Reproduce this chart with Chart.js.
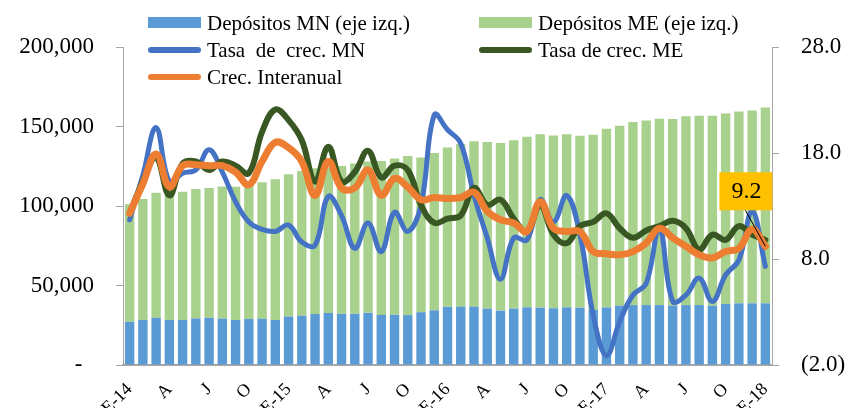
<!DOCTYPE html>
<html>
<head>
<meta charset="utf-8">
<script src="https://cdn.jsdelivr.net/npm/chart.js@4"></script>
<style>
  html, body { margin: 0; padding: 0; background: #fff; }
</style>
</head>
<body>
<canvas id="chart" width="848" height="408"></canvas>
<script>
const months = [
  "E-14", "F", "M", "A", "M", "J", "J", "A", "S", "O", "N", "D",
  "E-15", "F", "M", "A", "M", "J", "J", "A", "S", "O", "N", "D",
  "E-16", "F", "M", "A", "M", "J", "J", "A", "S", "O", "N", "D",
  "E-17", "F", "M", "A", "M", "J", "J", "A", "S", "O", "N", "D",
  "E-18"
];

// saldos (eje izq.)
const depMN = [
  27200, 28300, 29700, 28300, 28300, 29300, 29700, 29100, 28300, 28900, 29100, 28300,
  30500, 31000, 32100, 32700, 32200, 32200, 32800, 31500, 31600, 31400, 33200, 34400,
  36600, 36700, 36700, 35500, 34200, 35500, 36300, 36100, 35700, 36300, 36100, 34600,
  36200, 37300, 37700, 37700, 37700, 37300, 37700, 37700, 37300, 38400, 38800, 38800,
  38800
];
const depME = [
  73900, 76100, 78700, 79600, 80700, 81400, 81600, 83200, 83800, 84700, 85900, 88600,
  89500, 91000, 91600, 91600, 92900, 94600, 95200, 96800, 98300, 100000, 97300, 98900,
  100200, 102300, 104100, 104700, 105400, 105800, 107300, 109100, 108700, 108900, 108100, 110200,
  112400, 113100, 115200, 116000, 117200, 117400, 118700, 119100, 119500, 119800, 120700, 121300,
  123200
];

// tasas (eje der.)
const tasaMN = [
  11.7, 15.9, 20.4, 15.3, 16.1, 16.4, 18.3, 16.2, 13.4, 11.5, 10.8, 10.6,
  11.2, 9.6, 9.3, 13.9, 12.1, 9.0, 11.4, 8.7, 12.4, 10.6, 13.1, 21.6,
  20.2, 18.9, 14.0, 10.0, 6.1, 10.0, 9.8, 13.6, 11.5, 14.0, 10.3, 2.7,
  -1.1, 2.1, 4.6, 5.7, 10.9, 4.0, 4.6, 6.2, 4.0, 6.5, 7.9, 12.5,
  7.3
];
const tasaME = [
  12.3, 15.3, 17.6, 14.0, 17.0, 17.2, 16.4, 17.2, 16.8, 16.1, 20.0, 22.1,
  21.1, 19.2, 15.3, 18.6, 15.3, 16.2, 18.2, 15.7, 16.8, 16.4, 13.1, 11.4,
  11.8, 12.1, 14.7, 13.1, 13.6, 11.8, 10.6, 13.1, 10.3, 9.5, 11.1, 11.5,
  12.3, 10.9, 10.0, 10.7, 11.1, 11.6, 10.9, 8.9, 10.3, 9.8, 11.1, 10.3,
  9.8
];
const crecInter = [
  12.3, 15.1, 17.9, 14.8, 16.8, 16.9, 16.8, 16.8, 16.2, 15.0, 17.2, 19.0,
  18.5, 17.2, 14.0, 17.2, 14.7, 14.7, 16.4, 14.0, 15.6, 14.8, 13.6, 13.8,
  13.7, 13.8, 14.3, 12.5, 11.7, 11.4, 10.6, 13.4, 10.9, 10.6, 10.6, 8.7,
  8.5, 8.4, 8.7, 9.5, 10.9, 10.0, 9.2, 8.4, 8.1, 8.7, 9.0, 10.8,
  9.2
];

const leftTicks = [0, 50000, 100000, 150000, 200000];
const rightTicks = [-2, 8, 18, 28];

const serif = "'Liberation Serif', 'Times New Roman', serif";
const axisGray = "#a6a6a6";

// leyenda en dos columnas dibujada dentro del area del grafico
const legendPlugin = {
  id: "topLegend",
  afterDraw(chart) {
    const c = chart.ctx;
    const ds = chart.data.datasets;
    const cols = [148, 479];
    const rows = [23, 50, 77];
    const items = [
      [0, 0, 0], [1, 1, 0],
      [2, 0, 1], [3, 1, 1],
      [4, 0, 2]
    ];
    c.save();
    c.font = "21px " + serif;
    c.fillStyle = "#000";
    c.textBaseline = "alphabetic";
    items.forEach(([i, col, row]) => {
      const d = ds[i];
      const x = cols[col];
      const y = rows[row];
      if (d.type === "bar") {
        c.fillStyle = d.backgroundColor;
        c.fillRect(x, y - 6, 53, 11);
      } else {
        c.strokeStyle = d.borderColor;
        c.lineWidth = 6;
        c.lineCap = "round";
        c.beginPath();
        c.moveTo(x + 3, y);
        c.lineTo(x + 50, y);
        c.stroke();
      }
      c.fillStyle = "#000";
      c.fillText(d.label, x + 59, y + 7);
    });
    c.restore();
  }
};

// etiqueta del ultimo dato de Crec. Interanual
const lastLabelPlugin = {
  id: "lastLabel",
  afterDatasetsDraw(chart) {
    const meta = chart.getDatasetMeta(4);
    const n = crecInter.length - 1;
    const p = meta.data[n];
    const c = chart.ctx;
    c.save();
    c.fillStyle = "#ffc000";
    c.fillRect(p.x - 46, p.y - 74, 53, 38);
    c.fillStyle = "#000";
    c.font = "24px " + serif;
    c.textAlign = "center";
    c.textBaseline = "middle";
    c.fillText(crecInter[n].toFixed(1), p.x - 19, p.y - 55);
    c.strokeStyle = "#000";
    c.lineWidth = 1;
    c.beginPath();
    c.moveTo(p.x - 20, p.y - 36);
    c.lineTo(p.x, p.y);
    c.stroke();
    c.restore();
  }
};

const lineBase = {
  type: "line",
  yAxisID: "y1",
  pointRadius: 0,
  tension: 0.4,
  fill: false,
  borderCapStyle: "round",
  borderJoinStyle: "round"
};

new Chart(document.getElementById("chart"), {
  type: "bar",
  data: {
    labels: months,
    datasets: [
      { type: "bar", label: "Depósitos MN (eje izq.)", data: depMN, backgroundColor: "#5b9bd5",
        yAxisID: "y", stack: "dep", barPercentage: 0.71, categoryPercentage: 1, order: 5 },
      { type: "bar", label: "Depósitos ME (eje izq.)", data: depME, backgroundColor: "#a9d18e",
        yAxisID: "y", stack: "dep", barPercentage: 0.71, categoryPercentage: 1, order: 5 },
      { ...lineBase, label: "Tasa  de  crec. MN", data: tasaMN, borderColor: "#4472c4", borderWidth: 5, order: 3 },
      { ...lineBase, label: "Tasa de crec. ME", data: tasaME, borderColor: "#385723", borderWidth: 6, order: 2 },
      { ...lineBase, label: "Crec. Interanual", data: crecInter, borderColor: "#ed7d31", borderWidth: 7, order: 1 }
    ]
  },
  options: {
    responsive: false,
    animation: false,
    devicePixelRatio: 1,
    layout: { padding: { top: 47, left: 0, right: 0, bottom: 0 } },
    plugins: {
      legend: { display: false },
      tooltip: { enabled: false }
    },
    scales: {
      x: {
        stacked: true,
        grid: { display: false },
        border: { color: axisGray, width: 2 },
        ticks: {
          autoSkip: false,
          minRotation: 45,
          maxRotation: 45,
          padding: 6,
          color: "#000",
          font: { family: serif, size: 18 },
          callback: (v, i) => (i % 3 === 0 ? months[i] : "")
        },
        afterFit: (s) => { s.height = 43; }
      },
      y: {
        stacked: true,
        position: "left",
        min: 0,
        max: 200000,
        grid: { drawOnChartArea: false, tickLength: 7, color: axisGray },
        border: { color: axisGray },
        ticks: {
          padding: 22,
          color: "#000",
          font: { family: serif, size: 23 },
          callback: (v) => (v === 0 ? "-  " : v.toLocaleString("en-US"))
        },
        afterBuildTicks: (s) => { s.ticks = leftTicks.map(v => ({ value: v })); },
        afterFit: (s) => { s.width = 123; }
      },
      y1: {
        position: "right",
        min: -2,
        max: 28,
        grid: { drawOnChartArea: false, tickLength: 7, color: axisGray },
        border: { color: axisGray },
        ticks: {
          padding: 22,
          color: "#000",
          font: { family: serif, size: 23 },
          callback: (v) => (v < 0 ? "(" + Math.abs(v).toFixed(1) + ")" : v.toFixed(1))
        },
        afterBuildTicks: (s) => { s.ticks = rightTicks.map(v => ({ value: v })); },
        afterFit: (s) => { s.width = 76; }
      }
    }
  },
  plugins: [legendPlugin, lastLabelPlugin]
});
</script>
</body>
</html>
